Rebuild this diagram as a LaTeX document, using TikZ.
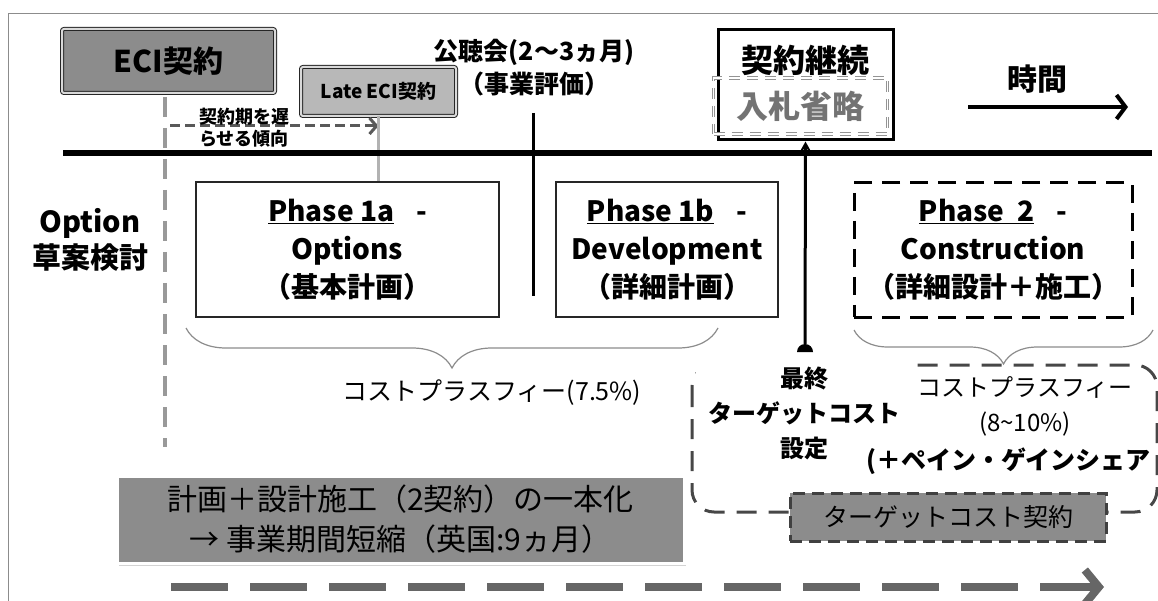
\documentclass[tikz,border=0pt]{standalone}
\usepackage{fontspec}
\setmainfont{Noto Sans CJK JP}
\usetikzlibrary{arrows.meta,decorations.pathreplacing,shadows}
\newcommand{\fsz}[2]{\fontsize{#1}{#2}\selectfont}
\tikzset{
  ecibox/.style={draw=black!85, line width=1pt, double=black!15, double distance=2pt, fill=black!45, rounded corners=2pt, inner sep=0pt, outer sep=0pt},
  latebox/.style={ecibox, fill=black!28},
  phasebox/.style={draw=black!85, line width=1.5pt, fill=white, inner sep=0pt, align=center, font={\fsz{28}{38}\bfseries}},
  phasedash/.style={phasebox, draw=black, line width=3pt, dash pattern=on 18pt off 10pt},
  bracestyle/.style={decorate, decoration={brace, amplitude=40pt, mirror}, draw=black!45, line width=1.2pt},
  plain/.style={inner sep=0pt, align=center},
}
\begin{document}
\begin{tikzpicture}[x=1pt,y=-1pt]
\useasboundingbox (0,0) rectangle (1158,601);
% frame
\draw[black!45, line width=1pt] (1158,14) -- (8,14) -- (8,601);

% big dashed rounded rectangle
\draw[black!72, line width=3pt, dash pattern=on 20pt off 12pt, rounded corners=22pt] (692,365) rectangle (1157,512);

% timeline
\coordinate (tlL) at (63,153);
\coordinate (tlR) at (1152,153);

% boxes top
\node[ecibox, minimum width=213pt, minimum height=64pt, font={\fsz{30}{36}\bfseries}] (eci) at (168.5,61) {ECI契約};
\node[latebox, minimum width=155pt, minimum height=49pt, font={\fsz{19}{22}\bfseries}] (late) at (378.5,91.5) {Late ECI契約};

\node[plain, font={\fsz{25}{33}\bfseries}] (koucho) at (534,68) {公聴会(2〜3ヵ月)\\（事業評価）};

% phases
\node[phasebox, minimum width=303pt, minimum height=135pt] (p1a) at (347.5,249.5) {\underline{Phase 1a}\hspace{22pt}-\\Options\\（基本計画）};
\node[phasebox, minimum width=222pt, minimum height=135pt] (p1b) at (667,249.5) {\underline{Phase 1b}\hspace{22pt}-\\Development\\（詳細計画）};
\node[phasedash, minimum width=278pt, minimum height=134pt] (p2) at (993,250) {\underline{Phase\ \ 2}\hspace{22pt}-\\Construction\\（詳細設計＋施工）};

% option label
\node[plain, font={\fsz{29}{36}\bfseries}] (option) at (90,240) {Option\\草案検討};

% gray dashed vertical
\coordinate (gvTop) at (165,97);
\coordinate (gvBot) at (165,447);
\draw[black!40, line width=4pt, dash pattern=on 20pt off 11pt] (gvTop) -- (gvBot);

% delay arrow
\coordinate (delayS) at (170,126);
\draw[black!65, line width=3pt, dash pattern=on 10pt off 5pt, -{Straight Barb[length=7pt,width=16pt]}] (delayS) -- (late.south |- delayS);
\node[plain, font={\fsz{18}{22}\bfseries}] (delay) at (244,128) {契約期を遅\\らせる傾向};

% late ECI line
\draw[black!30, line width=3pt] (late.south) -- (late.south |- p1a.north);

% timeline drawn
\draw[line width=6pt] (tlL) -- (tlR);

% public hearing line
\coordinate (kcTop) at (533,113);
\coordinate (kcBot) at (533,296);
\draw[line width=3pt] (kcTop) -- (kcBot);

% contract continuation box
\node[draw, line width=3pt, fill=white, minimum width=175pt, minimum height=110pt, inner sep=0pt] (keiyaku) at (805.5,85) {};
\node[plain, font={\fsz{32}{36}\bfseries}] (keizoku) at (805.5,60) {契約継続};
\node[draw=black!42, line width=1.2pt, double=white, double distance=1.5pt, dash pattern=on 11pt off 7pt, minimum width=174pt, minimum height=56pt, inner sep=0pt, text=black!55, font={\fsz{32}{36}\bfseries}] (nyusatsu) at (800.5,106) {入札省略};

% time arrow
\node[plain, font={\fsz{30}{36}\bfseries}] (jikan) at (1037,79) {時間};
\coordinate (jaS) at (968,107);
\coordinate (jaE) at (1128,107);
\draw[line width=4pt, -{Straight Barb[length=9pt,width=24pt]}] (jaS) -- (jaE);

% braces
\coordinate (b1L) at (186,328);
\coordinate (b1R) at (718,328);
\draw[bracestyle] (b1L) -- (b1R);
\coordinate (b2L) at (854,330);
\coordinate (b2R) at (1153,330);
\draw[bracestyle, decoration={amplitude=34pt}] (b2L) -- (b2R);

\node[plain, font={\fsz{25}{30}}] (cost75) at (492,393) {コストプラスフィー(7.5\%)};

% final target cost
\node[plain, fill=white, minimum width=217pt, minimum height=117pt, font={\fsz{24}{35}\bfseries}] (final) at (804.5,413.5) {最終\\ターゲットコスト\\設定};
\coordinate (dome) at (805,344);
\fill (797,352) arc[start angle=180, end angle=0, radius=8pt] -- cycle;
\draw[line width=3pt, -{Stealth[length=10pt,width=11pt]}] (dome) -- (keiyaku.south);

% right cost texts
\node[plain, font={\fsz{24}{30}}] (costR1) at (1025,387) {コストプラスフィー};
\node[plain, font={\fsz{24}{30}}] (costR2) at (1025,424) {(8\textasciitilde10\%)};
\node[plain, anchor=west, font={\fsz{25}{30}\bfseries}] (costR3) at (866,461) {(＋ペイン・ゲインシェア};

% target cost contract
\node[draw=black!75, line width=3pt, dash pattern=on 12pt off 7pt, fill=black!45, minimum width=316pt, minimum height=48pt, inner sep=0pt, font={\fsz{25}{30}}] (target) at (948,517) {ターゲットコスト契約};

% plan box
\node[draw=white, line width=3pt, fill=black!45, minimum width=567pt, minimum height=87pt, inner sep=0pt, align=center, font={\fsz{30}{40}}, drop shadow={shadow xshift=2pt, shadow yshift=-3pt, opacity=0.35}] (plan) at (400.5,519.5) {計画＋設計施工（2契約）の一本化\\→ 事業期間短縮（英国:9ヵ月）};

% bottom arrow
\coordinate (baS) at (171,587);
\coordinate (baE) at (1104,587);
\draw[black!60, line width=8pt, dash pattern=on 57pt off 22pt, -{Straight Barb[length=14pt,width=34pt]}] (baS) -- (baE);
\end{tikzpicture}
\end{document}
